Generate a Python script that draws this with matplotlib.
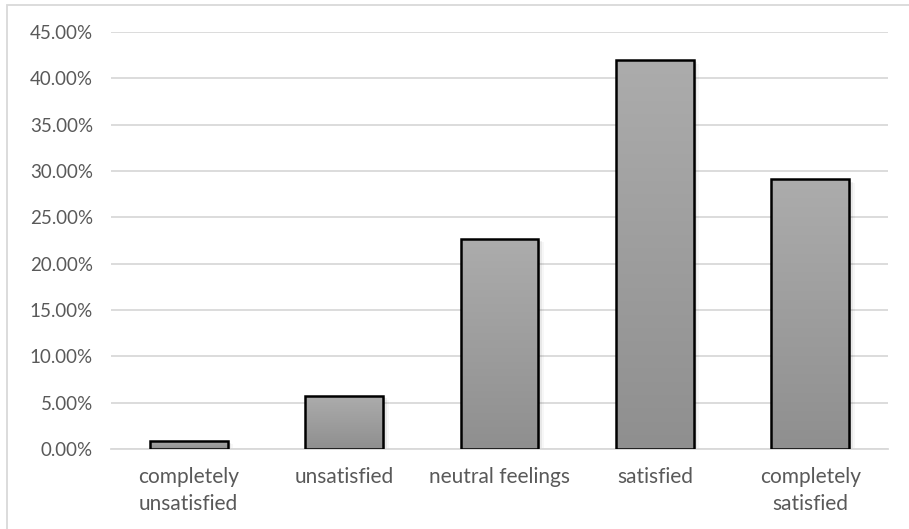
import numpy as np
import matplotlib.pyplot as plt
from matplotlib.patches import Rectangle

# satisfaction survey results (share of respondents, %)
categories = ["completely\nunsatisfied", "unsatisfied", "neutral feelings",
              "satisfied", "completely\nsatisfied"]
shares = [0.87, 5.7, 22.65, 41.95, 29.1]
yticks = [0, 5, 10, 15, 20, 25, 30, 35, 40, 45]

plt.rcParams['font.family'] = ['Lato', 'DejaVu Sans']

W, H = 909, 529
fig = plt.figure(figsize=(W / 100, H / 100), dpi=100)
ax = fig.add_axes([111 / W, 1 - 449 / H, (888 - 111) / W, (449 - 32) / H])

x = np.arange(len(categories))
bars = ax.bar(x, shares, width=0.5, color='none', edgecolor='black',
              linewidth=1.8, zorder=4)

# vertical grey gradient inside each bar, plus a soft drop shadow
grad = np.linspace(0, 1, 256).reshape(-1, 1)
for b in bars:
    x0, w, h = b.get_x(), b.get_width(), b.get_height()
    for k, a in enumerate([0.10, 0.06, 0.03]):
        sh = Rectangle((x0 + 0.012 * (k + 1), -0.2), w, h + 0.2 - 0.12 * (k + 1),
                       facecolor='black', alpha=a, edgecolor='none', zorder=2)
        ax.add_patch(sh)
    im = ax.imshow(grad, extent=(x0, x0 + w, 0, h), origin='lower',
                   cmap=plt.matplotlib.colors.LinearSegmentedColormap.from_list(
                       'g', ['#8f8f8f', '#acacac']),
                   aspect='auto', zorder=3)
    im.set_clip_path(b)

ax.set_xlim(-0.5, len(categories) - 0.5)
ax.set_ylim(0, 45)
ax.set_yticks(yticks)
ax.set_yticklabels(["%.2f%%" % v for v in yticks])
ax.set_xticks(x)
ax.set_xticklabels(categories)
for lab in ax.get_xticklabels():
    lab.set_linespacing(1.45)

ax.yaxis.grid(True, color='#d9d9d9', linewidth=1.3, zorder=1)
ax.set_axisbelow(True)
for s in ['top', 'right', 'left']:
    ax.spines[s].set_visible(False)
ax.spines['bottom'].set_color('#d9d9d9')
ax.spines['bottom'].set_linewidth(1.3)
ax.tick_params(axis='both', length=0, labelcolor='#595959')
ax.tick_params(axis='y', pad=13, labelsize=13.5)
ax.tick_params(axis='x', pad=13, labelsize=15)

# light frame around the chart area
fig.patches.append(Rectangle((7 / W, -0.1), 1.2, 1 - 5 / H + 0.1,
                             transform=fig.transFigure, fill=False,
                             edgecolor='#d9d9d9', linewidth=1.3))

fig.savefig("out.png", dpi=100)
